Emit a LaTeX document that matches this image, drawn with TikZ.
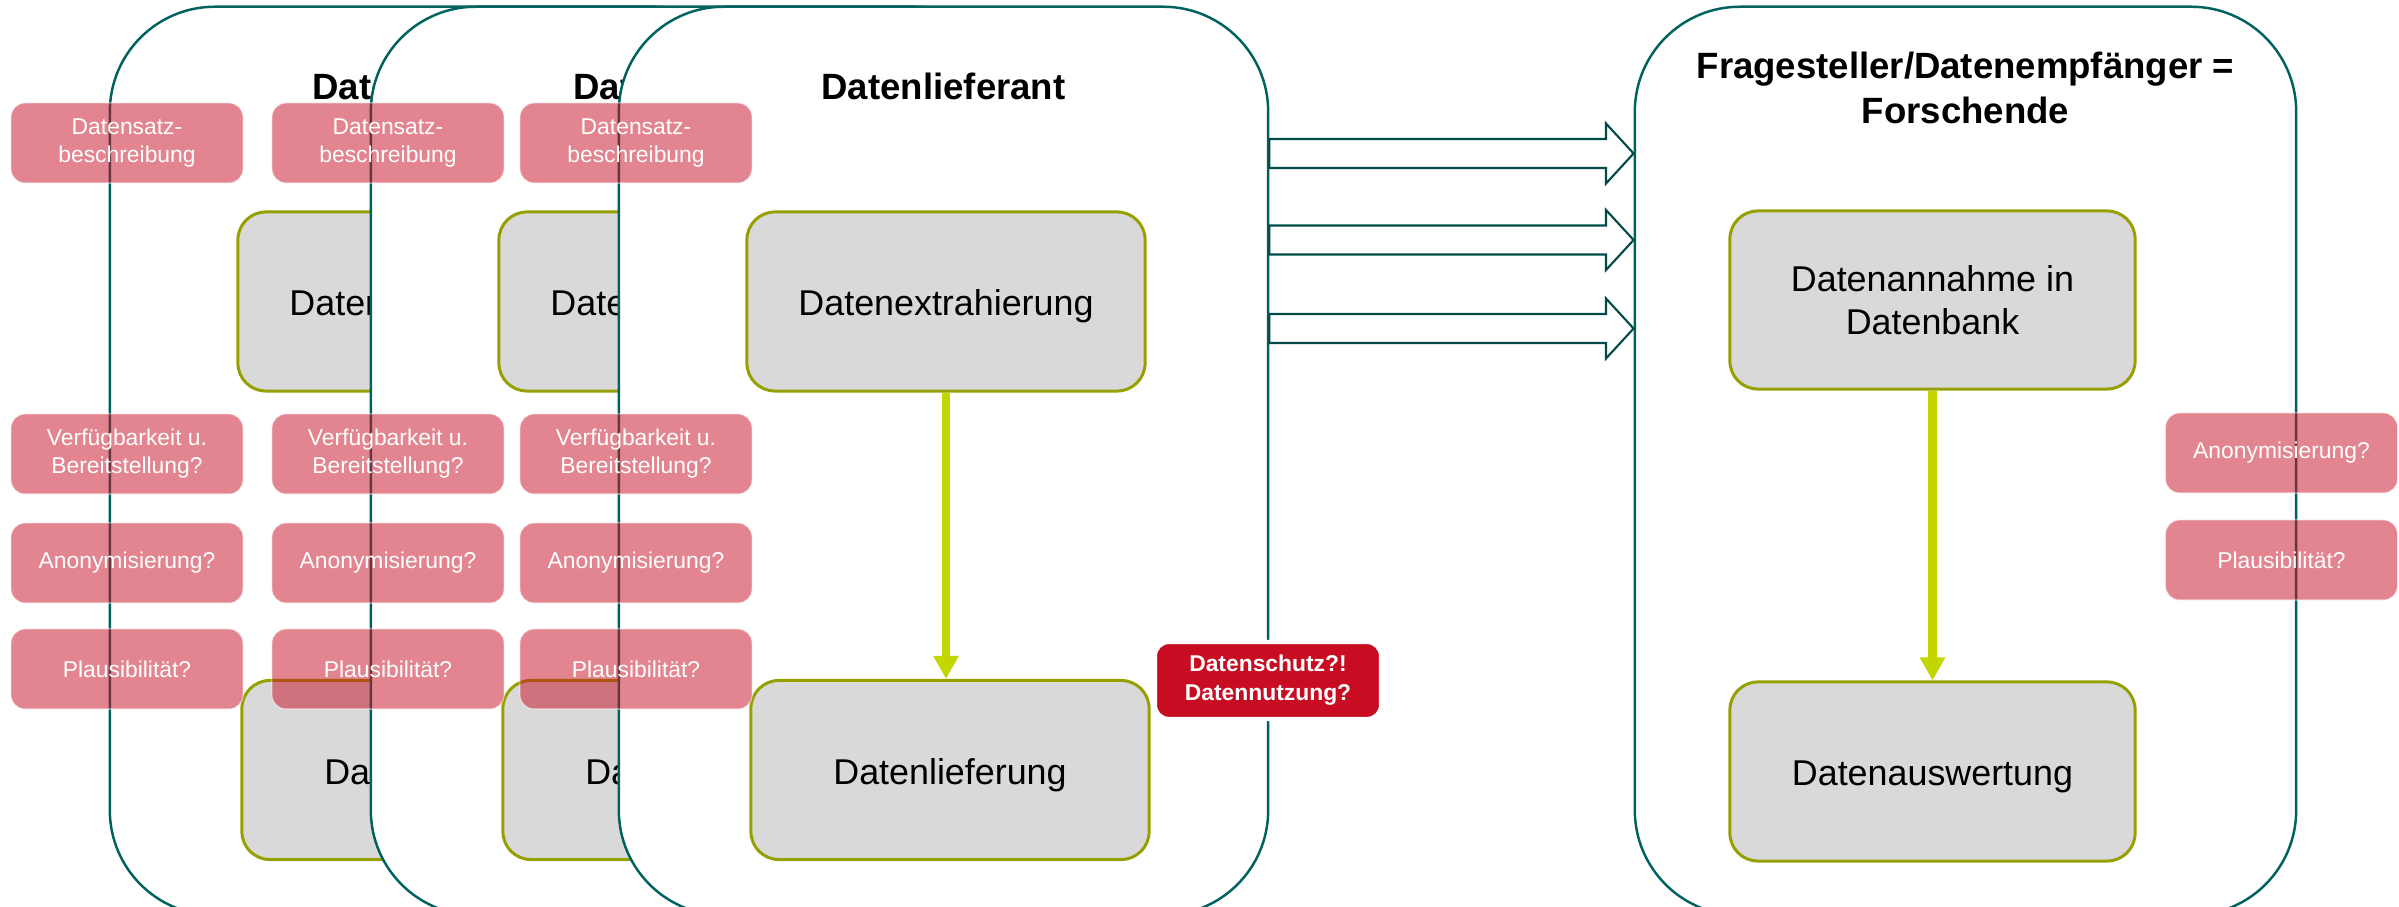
\documentclass[tikz,border=0pt]{standalone}
\usepackage{fontspec}
\setmainfont{Liberation Sans}
\usetikzlibrary{arrows.meta}

\definecolor{petrol}{RGB}{0,98,95}
\definecolor{petroldunkel}{RGB}{0,75,72}
\definecolor{hellgrau}{RGB}{217,217,217}
\definecolor{oliv}{RGB}{150,160,0}
\definecolor{gelbgruen}{RGB}{196,214,0}
\definecolor{signalrot}{RGB}{200,12,34}

\begin{document}
\begin{tikzpicture}[x = 0.01cm, y = -0.01cm,
    rahmen/.style = {draw=petrol, line width=0.7pt, fill=white, rounded corners=1.05cm, minimum width=6.49cm, minimum height=9.08cm, inner sep=0pt},
    titel/.style = {font=\fontsize{10.4}{12.8}\selectfont\bfseries, align=center, inner sep=0pt},
    grau/.style = {draw=oliv, line width=0.85pt, fill=hellgrau, rounded corners=0.28cm, minimum width=3.98cm, minimum height=1.79cm, inner sep=0pt, align=center, text height=0.36cm, text depth=0.076cm, font=\fontsize{10.2}{12.2}\selectfont},
    hinweis/.style = {fill=signalrot, fill opacity=0.5, text opacity=1, draw=white, draw opacity=0.6, line width=0.3pt, text=white, rounded corners=0.14cm, minimum width=2.32cm, minimum height=0.8cm, inner sep=0pt, align=center, font=\fontsize{6.5}{8}\selectfont},
    warnung/.style = {fill=signalrot, draw=white, line width=1.2pt, text=white, rounded corners=0.14cm, minimum width=2.26cm, minimum height=0.77cm, inner sep=0pt, align=center, font=\fontsize{6.5}{8.25}\selectfont\bfseries},
    pfeil/.style = {draw=gelbgruen, line width=2.3pt, -{Triangle[length=0.23cm, width=0.24cm]}},
    blockpfeil/.style = {draw=petroldunkel, line width=0.6pt, fill=white, line join=miter}]
            \useasboundingbox (0,0) rectangle (2399,907);
            \clip (0,0) rectangle (2399,907);

            % Datenlieferanten, hintereinander gestapelt
            \foreach \dx/\k in {-509/a, -248/b, 0/c} {
                \node[rahmen] (rahmen\k) at (\dx+943.5,461) {};
                \node[titel, anchor=base] (titel\k) at (\dx+943.5,100) {Datenlieferant};
                \node[grau] (extr\k) at (\dx+946,301.5) {Datenextrahierung};
                \node[grau] (lief\k) at (\dx+950,770) {Datenlieferung};
                \draw[pfeil] (extr\k.south) -- (extr\k.south |- lief\k.north);
            }

            % Forschende
            \node[rahmen, minimum width=6.61cm] (rahmenf) at (1965.5,461) {};
            \node[titel] (titelf) at (1965.5,88) {Fragesteller/Datenempfänger =\\Forschende};
            \node[grau, minimum width=4.05cm, minimum height=1.78cm, text height=0.69cm, text depth=0cm] (annahme) at (1932.5,300) {Datenannahme in\\Datenbank};
            \node[grau, minimum width=4.05cm] (auswertung) at (1932.5,771.5) {Datenauswertung};
            \draw[pfeil] (annahme.south) -- (auswertung.north);

            % Blockpfeile
            \foreach \y in {153.5, 240, 328.5}
                \draw[blockpfeil] (rahmenc.east |- 0,\y-14.5) -- (1606,\y-14.5) -- (1606,\y-30) -- (rahmenf.west |- 0,\y) -- (1606,\y+30) -- (1606,\y+14.5) -- (rahmenc.east |- 0,\y+14.5) -- cycle;

            % Hinweise
            \foreach \dx/\k in {-509/a, -248/b, 0/c} {
                \node[hinweis] (satz\k) at (\dx+636,143) {Datensatz-\\beschreibung};
                \node[hinweis] (verfueg\k) at (\dx+636,454) {Verfügbarkeit u.\\Bereitstellung?};
                \node[hinweis] (anonym\k) at (\dx+636,563) {Anonymisierung?};
                \node[hinweis] (plaus\k) at (\dx+636,669) {Plausibilität?};
            }
            \node[hinweis] (anonymf) at (2281.5,453) {Anonymisierung?};
            \node[hinweis] (plausf) at (2281.5,560) {Plausibilität?};

            \node[warnung] (datenschutz) at (1268,680.5) {Datenschutz?!\\Datennutzung?};
        \end{tikzpicture}
\end{document}
